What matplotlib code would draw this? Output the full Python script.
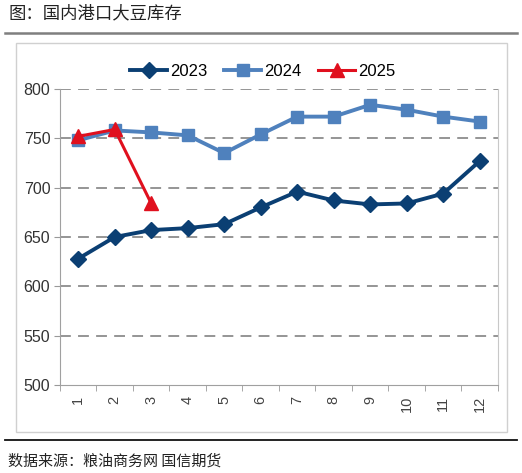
import matplotlib
matplotlib.use("Agg")
import matplotlib.pyplot as plt
from matplotlib.lines import Line2D
from matplotlib.patches import Rectangle

months = [1, 2, 3, 4, 5, 6, 7, 8, 9, 10, 11, 12]
month_labels = [str(m) for m in months]
s2023 = [628, 650, 657, 659, 663, 680, 696, 687, 683, 684, 694, 727]
s2024 = [748, 758, 756, 753, 735, 754, 772, 772, 784, 779, 772, 767]
months_2025 = [1, 2, 3]
s2025 = [752, 759, 684]
yticks = [500, 550, 600, 650, 700, 750, 800]

title = "图：国内港口大豆库存"
source = "数据来源：粮油商务网 国信期货"

W, H = 522, 473
fig = plt.figure(figsize=(W / 100, H / 100), dpi=100)

cjk = ["Noto Sans CJK SC", "DejaVu Sans"]
num_font = "Liberation Sans"

# header/footer decorations
fig.add_artist(Line2D([5 / W, 517 / W], [1 - 33 / H, 1 - 33 / H], color="#7f7f7f", lw=1.8, transform=fig.transFigure))
fig.add_artist(Line2D([5 / W, 517 / W], [1 - 440 / H, 1 - 440 / H], color="#111111", lw=1.3, transform=fig.transFigure))
fig.add_artist(Rectangle((16 / W, 1 - 432 / H), (507 - 16) / W, (432 - 43) / H, fill=False,
                         edgecolor="#d0d0d0", lw=1.0, transform=fig.transFigure))
fig.text(8 / W, 1 - 13 / H, title, family=cjk, fontsize=12.5, va="center", ha="left", color="#222222")
fig.text(8 / W, 1 - 461 / H, source, family=cjk, fontsize=10.8, va="center", ha="left", color="#222222")

ax = fig.add_axes([60 / W, 1 - 385 / H, (498 - 60) / W, (385 - 89) / H])
c23, c24, c25 = "#0b3f73", "#4f81bd", "#e0101e"
ax.plot(months, s2023, color=c23, lw=2.8, marker="D", ms=8, label="2023", zorder=3)
ax.plot(months, s2024, color=c24, lw=2.8, marker="s", ms=9, label="2024", zorder=3)
ax.plot(months_2025, s2025, color=c25, lw=2.2, marker="^", ms=10, label="2025", zorder=4)

ax.set_xlim(0.5, 12.5)
ax.set_ylim(500, 800)
ax.set_yticks(yticks)
ax.set_yticklabels([str(v) for v in yticks], family=num_font, fontsize=11.5, color="#333333")
ax.set_xticks(months)
ax.set_xticklabels(month_labels, family=num_font, fontsize=10.5, rotation=90, color="#444444")
ax.set_xticks([m + 0.5 for m in [0] + months], minor=True)
ax.tick_params(axis="x", which="major", length=0, pad=8)
ax.tick_params(axis="x", which="minor", length=4, color="#999999")
ax.tick_params(axis="y", length=4, color="#999999", pad=3)
for v in yticks[1:]:
    ax.axhline(v, color="#8c8c8c", lw=1.3, ls=(0, (6, 4)), zorder=1)
for s in ["top"]:
    ax.spines[s].set_visible(False)
ax.spines["left"].set_color("#a0a0a0")
ax.spines["right"].set_color("#c8c8c8")
ax.spines["bottom"].set_color("#a0a0a0")

leg = fig.legend(loc="center", bbox_to_anchor=(263 / W, 1 - 71 / H), ncol=3, frameon=False,
                 prop={"family": num_font, "size": 12}, handlelength=2.2, columnspacing=1.0,
                 handletextpad=0.2)

fig.savefig("out.png", dpi=100)
